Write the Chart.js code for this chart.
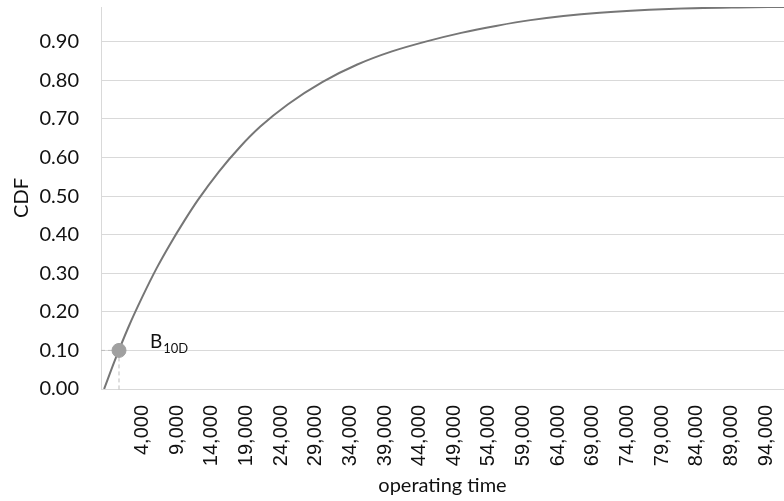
<!DOCTYPE html>
<html><head><meta charset="utf-8">
<script src="https://cdn.jsdelivr.net/npm/chart.js@4.4.1/dist/chart.umd.min.js"></script>
<style>html,body{margin:0;padding:0;background:#fff;overflow:hidden}#wrap{width:784px;height:501px}</style>
</head><body><div id="wrap"><canvas id="c" width="784" height="501"></canvas></div>
<script>
// values
const operatingTime = [-1550, 0, 2000, 4000, 6000, 8000, 10000, 12000, 15000, 18000, 21000, 25000, 30000, 35000, 40000, 45000, 50000, 55000, 60000, 70000, 80000, 90000, 96600];
const cdf = [0, 0.074, 0.162, 0.240, 0.312, 0.376, 0.435, 0.490, 0.563, 0.626, 0.680, 0.738, 0.796, 0.841, 0.875, 0.901, 0.923, 0.941, 0.956, 0.975, 0.985, 0.989, 0.990];
const xTickValues = [4000, 9000, 14000, 19000, 24000, 29000, 34000, 39000, 44000, 49000, 54000, 59000, 64000, 69000, 74000, 79000, 84000, 89000, 94000];
const yTickValues = [0, 0.1, 0.2, 0.3, 0.4, 0.5, 0.6, 0.7, 0.8, 0.9];
const xMin = -2000, xMax = 96600, yMin = 0, yMax = 0.99;
const b10Time = 600, b10Cdf = 0.10;
const b10Main = 'B', b10Sub = '10D';
const xTitle = 'operating time', yTitle = 'CDF';

const GRID = '#d9d9d9';
const TXT = '#111111';

const labelPlugin = {
  id: 'b10label',
  afterDatasetsDraw(chart) {
    const {ctx, scales: {x, y}} = chart;
    const px = x.getPixelForValue(b10Time), py = y.getPixelForValue(b10Cdf);
    ctx.save();
    ctx.fillStyle = TXT;
    ctx.textBaseline = 'alphabetic';
    ctx.textAlign = 'left';
    ctx.font = '19px Lato';
    ctx.fillText(b10Main, px + 31, py - 2);
    const w = ctx.measureText(b10Main).width;
    ctx.font = '13px Lato';
    ctx.fillText(b10Sub, px + 31 + w + 1, py + 3);
    ctx.restore();
  }
};

new Chart(document.getElementById('c'), {
  type: 'line',
  data: {
    datasets: [
      { data: [{x: b10Time, y: b10Cdf}], pointRadius: 7, pointHoverRadius: 7, pointBackgroundColor: '#a0a0a0', pointBorderColor: '#a0a0a0', showLine: false },
      { data: operatingTime.map((t, i) => ({x: t, y: cdf[i]})), borderColor: '#767676', borderWidth: 2, pointRadius: 0, cubicInterpolationMode: 'monotone', fill: false },
      { data: [{x: xMin, y: b10Cdf}, {x: b10Time, y: b10Cdf}], borderColor: '#bdbdbd', borderWidth: 1, borderDash: [4, 3], pointRadius: 0 },
      { data: [{x: b10Time, y: b10Cdf}, {x: b10Time, y: -0.008}], borderColor: '#bdbdbd', borderWidth: 1, borderDash: [4, 3], pointRadius: 0, clip: false }
    ]
  },
  options: {
    responsive: false,
    animation: false,
    devicePixelRatio: 1,
    layout: { autoPadding: false, padding: { top: 7, right: 0, left: 0, bottom: 0 } },
    plugins: { legend: { display: false }, tooltip: { enabled: false } },
    scales: {
      x: {
        type: 'linear', min: xMin, max: xMax,
        afterBuildTicks: s => { s.ticks = xTickValues.map(v => ({value: v})); },
        afterFit: s => { s.height = 112; s.paddingLeft = 0; s.paddingRight = 0; },
        grid: { display: false, drawTicks: false },
        border: { display: true, color: GRID, width: 1 },
        ticks: {
          autoSkip: false, maxRotation: 90, minRotation: 90, padding: 16,
          color: TXT, font: { family: 'Liberation Sans', size: 20 },
          callback: v => v.toLocaleString('en-US')
        },
        title: { display: true, text: xTitle, color: TXT, font: { family: 'Lato', size: 20 }, padding: { top: 0, bottom: 3 } }
      },
      y: {
        min: yMin, max: yMax,
        afterBuildTicks: s => { s.ticks = yTickValues.map(v => ({value: v})); },
        afterFit: s => { s.width = 101; s.paddingTop = 0; s.paddingBottom = 0; },
        grid: { color: GRID, lineWidth: 1, drawTicks: false },
        border: { display: true, color: GRID, width: 1 },
        ticks: { padding: 22, color: TXT, font: { family: 'Lato', size: 20 }, callback: v => v.toFixed(2) },
        title: { display: true, text: yTitle, color: TXT, font: { family: 'Lato', size: 20 }, padding: { top: 10, bottom: 0 } }
      }
    }
  },
  plugins: [labelPlugin]
});
</script></body></html>
